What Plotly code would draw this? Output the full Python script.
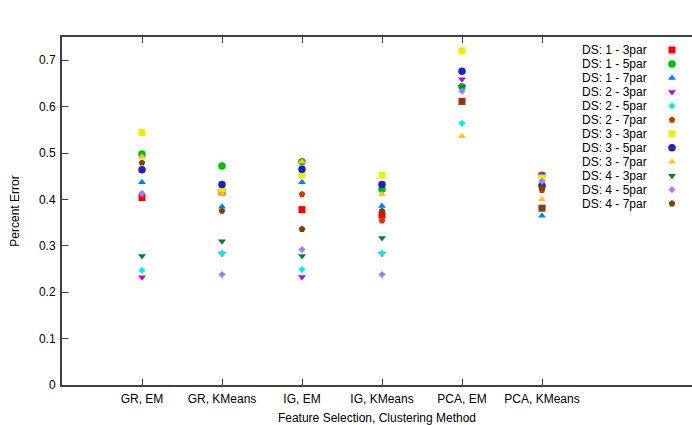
import plotly.graph_objects as go

methods = ["GR, EM", "GR, KMeans", "IG, EM", "IG, KMeans", "PCA, EM", "PCA, KMeans"]
method_pos = [1, 2, 3, 4, 5, 6]

series_names = ["DS: 1 - 3par", "DS: 1 - 5par", "DS: 1 - 7par",
                "DS: 2 - 3par", "DS: 2 - 5par", "DS: 2 - 7par",
                "DS: 3 - 3par", "DS: 3 - 5par", "DS: 3 - 7par",
                "DS: 4 - 3par", "DS: 4 - 5par", "DS: 4 - 7par"]

ds1_3par = [0.404, 0.416, 0.378, 0.366, 0.611, 0.381]
ds1_5par = [0.498, 0.472, 0.481, 0.422, 0.643, 0.452]
ds1_7par = [0.437, 0.384, 0.437, 0.386, 0.607, 0.365]
ds2_3par = [0.232, 0.283, 0.233, 0.283, 0.659, 0.454]
ds2_5par = [0.247, 0.284, 0.249, 0.284, 0.564, 0.435]
ds2_7par = [0.410, 0.415, 0.411, 0.354, 0.610, 0.420]
ds3_3par = [0.544, 0.422, 0.452, 0.452, 0.720, 0.446]
ds3_5par = [0.464, 0.432, 0.465, 0.432, 0.676, 0.429]
ds3_7par = [0.492, 0.412, 0.481, 0.411, 0.536, 0.400]
ds4_3par = [0.278, 0.310, 0.278, 0.317, 0.643, 0.381]
ds4_5par = [0.413, 0.238, 0.292, 0.238, 0.633, 0.439]
ds4_7par = [0.479, 0.375, 0.336, 0.375, 0.610, 0.425]

series_values = [ds1_3par, ds1_5par, ds1_7par, ds2_3par, ds2_5par, ds2_7par,
                 ds3_3par, ds3_5par, ds3_7par, ds4_3par, ds4_5par, ds4_7par]

y_ticks = [0, 0.1, 0.2, 0.3, 0.4, 0.5, 0.6, 0.7]

colors = ["#ff0000", "#00c000", "#0080ff", "#c000ff", "#00eeee", "#c04000",
          "#eeee00", "#2020c0", "#ffc020", "#008040", "#a080ff", "#804000"]
symbols = ["square", "circle", "triangle-up", "triangle-down", "diamond", "pentagon"] * 2
sizes = [7, 7.5, 7, 7, 5.5, 7] * 2

FONT = "Liberation Sans, Arial, sans-serif"
W, H = 692, 425
L, R, T, B = 62, 0, 37, 40

fig = go.Figure()
for name, vals, c, s, sz in zip(series_names, series_values, colors, symbols, sizes):
    fig.add_trace(go.Scatter(
        x=method_pos, y=vals, mode="markers", name=name, showlegend=False,
        marker=dict(symbol=s, color=c, size=sz, line=dict(width=0)),
        xaxis="x", yaxis="y"))

# custom legend (text then key, as in the reference), in pixel overlay axes
leg_text_x = 649
leg_key_x = 672
leg_y0 = 50
leg_dy = 13.96
for i, (name, c, s, sz) in enumerate(zip(series_names, colors, symbols, sizes)):
    yy = leg_y0 + i * leg_dy
    fig.add_trace(go.Scatter(
        x=[leg_key_x], y=[yy], mode="markers", showlegend=False, hoverinfo="skip",
        marker=dict(symbol=s, color=c, size=sz, line=dict(width=0)),
        xaxis="x2", yaxis="y2"))
    fig.add_annotation(x=leg_text_x, y=yy, xref="x2", yref="y2", text=name,
                       showarrow=False, xanchor="right", yanchor="middle",
                       font=dict(family=FONT, size=12, color="#000000"))

axis_col = "#404040"
fig.update_layout(
    width=W, height=H, autosize=False,
    margin=dict(l=L, r=R, t=T, b=B, pad=0),
    paper_bgcolor="white", plot_bgcolor="white",
    font=dict(family=FONT, size=12, color="#000000"),
    showlegend=False,
    xaxis=dict(range=[0, (W - L - R) / 80.0], tickmode="array", tickvals=method_pos,
               ticktext=methods, ticks="inside", ticklen=6, tickwidth=1,
               tickcolor=axis_col, showline=True, linecolor=axis_col, linewidth=2,
               mirror="ticks", showgrid=False, zeroline=False,
               ticklabelstandoff=2,
               title=dict(text="Feature Selection, Clustering Method", standoff=9,
                          font=dict(size=12))),
    yaxis=dict(range=[0, 0.75], tickmode="array", tickvals=y_ticks,
               ticktext=[("%g" % v) for v in y_ticks],
               ticks="inside", ticklen=6, tickwidth=1, tickcolor=axis_col,
               showline=True, linecolor=axis_col, linewidth=2, mirror=False,
               showgrid=False, zeroline=False, ticklabelstandoff=2,
               title=dict(text="Percent Error", standoff=17, font=dict(size=12))),
    xaxis2=dict(overlaying="x", range=[L, W - R], visible=False, fixedrange=True),
    yaxis2=dict(overlaying="y", range=[H - B, T], visible=False, fixedrange=True),
)

fig.add_annotation(x=372, y=15, xref="x2", yref="y2",
                   text="Unigram - Individual Performace of Each Dataset per Methods",
                   showarrow=False, xanchor="center", yanchor="middle",
                   font=dict(family=FONT, size=12, color="#000000"))

fig.write_html("out.html")
